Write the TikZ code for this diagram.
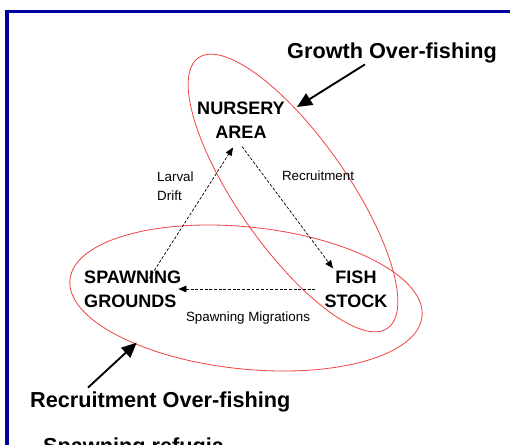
\documentclass[tikz,border=0pt]{standalone}
\usepackage{xcolor}
\usepackage{tikz}
\usepackage{fontspec}
\setmainfont{Liberation Sans}
\usetikzlibrary{positioning,shapes,arrows.meta,calc}

\definecolor{frameblue}{RGB}{0,0,160}
\definecolor{ringred}{RGB}{240,70,70}

\begin{document}
\begin{tikzpicture}[
    x=0.03cm,
    y=-0.03cm,
    stage/.style={
        inner sep=0pt,
        font=\fontsize{15.4}{20.5}\selectfont\bfseries,
        align=center
    },
    flowlabel/.style={
        inner sep=0pt,
        font=\fontsize{11.4}{16.3}\selectfont
    },
    title/.style={
        inner sep=0pt,
        font=\fontsize{18.5}{22}\selectfont\bfseries
    },
    flow/.style={-{Triangle[length=0.24cm,width=0.2cm]}, line width=0.6pt, dash pattern=on 2.5pt off 1.5pt},
    pointer/.style={-{Triangle[length=0.45cm,width=0.4cm]}, line width=1.6pt},
    ring/.style={draw=ringred, line width=0.7pt},
    frame/.style={draw=frameblue, line width=3pt}
]
    \useasboundingbox (0,0) rectangle (510,444);
    \clip (0,0) rectangle (510,444);
    \fill[white] (0,0) rectangle (510,444);

    % Slide frame
    \draw[frame] (7,470) |- (530,11.5);

    % Life cycle stages
    \node[stage] (nursery) at (241,120) {NURSERY\\AREA};
    \node[stage, anchor=west, align=left] (spawn) at (84,289) {SPAWNING\\GROUNDS};
    \node[stage] (fish) at (356,289) {FISH\\STOCK};

    % Fishing rings
    \draw[ring, rotate around={-55:(293,193)}] (293,193) ellipse [x radius=165, y radius=55];
    \draw[ring, rotate around={-6:(246,298)}] (246,298) ellipse [x radius=177, y radius=71];

    % Movements between stages
    \draw[flow] ($(spawn.north)+(14,12)$) -- ($(nursery.south)+(-8,9)$);
    \draw[flow] ($(nursery.south)+(1,8)$) -- ($(fish.north)+(-23,-2)$);
    \draw[flow] ($(fish.west)+(-9,0)$) -- ($(spawn.east)+(-3,0)$);

    \node[flowlabel, anchor=west, align=left] (drift) at (157,186) {Larval\\Drift};
    \node[flowlabel] (recruit) at (318,176) {Recruitment};
    \node[flowlabel] (migrate) at (248,318) {Spawning Migrations};

    % Over-fishing labels
    \node[title] (growth) at (392,53) {Growth Over-fishing};
    \node[title, anchor=west] (recover) at (30,402) {Recruitment Over-fishing};
    \node[title, anchor=base west] (refugia) at (43,453) {Spawning refugia};

    \draw[pointer] ($(growth.south west)+(78,1)$) -- ($(nursery.east)+(12,-13)$);
    \draw[pointer] ($(recover.north west)+(58,-4)$) -- ($(spawn.south)+(4,35)$);
\end{tikzpicture}
\end{document}
